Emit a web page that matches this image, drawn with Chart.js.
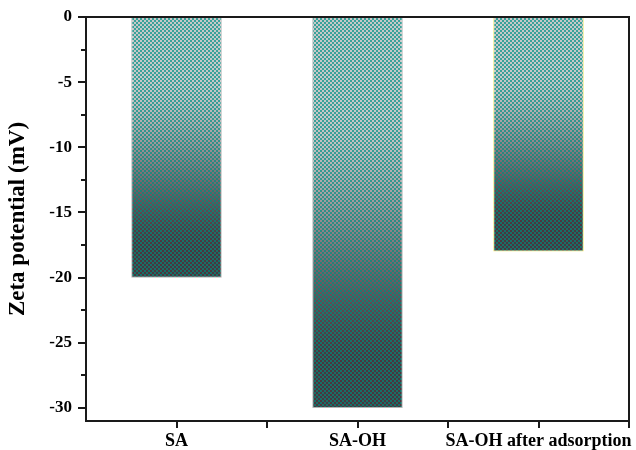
<!DOCTYPE html>
<html>
<head>
<meta charset="utf-8">
<script src="https://cdn.jsdelivr.net/npm/chart.js@4"></script>
<style>
  html, body { margin: 0; padding: 0; background: #fff; }
  #wrap { width: 636px; height: 450px; }
</style>
</head>
<body>
<div id="wrap"><canvas id="c" width="636" height="450"></canvas></div>
<script>
// Zeta potential of the samples (mV)
const categories = ['SA', 'SA-OH', 'SA-OH after adsorption'];
const zeta = [-20, -30, -18];
const yMin = -31;
const yMax = 0;
const yTickValues = [0, -2.5, -5, -7.5, -10, -12.5, -15, -17.5, -20, -22.5, -25, -27.5, -30];
const barEdgeColors = ['#b5b5b5', '#b5b5b5', '#eeea6a'];

const FONT = '"Liberation Serif", "Times New Roman", serif';

// Cross-hatched fill whose colours darken from the top of each bar to its end.
const fillCache = {};
function mix(a, b, s) { return a.map((v, i) => Math.round(v + (b[i] - v) * s)); }
function hatchFill(ctx) {
  const chart = ctx.chart;
  if (!chart.chartArea || ctx.parsed === undefined) return '#3a9a94';
  const yScale = chart.scales.y;
  const top = yScale.getPixelForValue(0);
  const bottom = yScale.getPixelForValue(ctx.parsed.y);
  const key = ctx.dataIndex + ':' + Math.round(top) + ':' + Math.round(bottom) + ':' + chart.height;
  if (fillCache[key]) return fillCache[key];
  const w = 4, h = chart.height;
  const cv = document.createElement('canvas');
  cv.width = w; cv.height = h;
  const g = cv.getContext('2d');
  const img = g.createImageData(w, h);
  const bgLight = [200, 200, 200], bgDark = [74, 54, 62];
  const tealLight = [58, 162, 154], tealDark = [22, 112, 104];
  for (let y = 0; y < h; y++) {
    let t = (y - top) / (bottom - top);
    t = Math.max(0, Math.min(1, t));
    let s = Math.max(0, Math.min(1, (t - 0.22) / 0.68));
    s = s * s * (3 - 2 * s);
    const bg = mix(bgLight, bgDark, s);
    const tl = mix(tealLight, tealDark, s);
    for (let x = 0; x < w; x++) {
      const col = (((x >> 1) + (y >> 1)) % 2 === 0) ? bg : tl;
      const i = (y * w + x) * 4;
      img.data[i] = col[0]; img.data[i + 1] = col[1]; img.data[i + 2] = col[2]; img.data[i + 3] = 255;
    }
  }
  g.putImageData(img, 0, 0);
  const pat = chart.ctx.createPattern(cv, 'repeat');
  fillCache[key] = pat;
  return pat;
}

// Frame around the plot with outward tick marks on the left and bottom axes.
const frameTicks = {
  id: 'frameTicks',
  afterDatasetsDraw(chart) {
    const { ctx, chartArea: a, scales } = chart;
    ctx.save();
    ctx.strokeStyle = '#1a1a1a';
    ctx.lineWidth = 2;
    ctx.strokeRect(a.left, a.top, a.right - a.left, a.bottom - a.top);
    scales.y.ticks.forEach(t => {
      const py = Math.round(scales.y.getPixelForValue(t.value));
      const major = Math.abs(t.value % 5) < 1e-9;
      ctx.beginPath();
      ctx.moveTo(a.left, py);
      ctx.lineTo(a.left - (major ? 8 : 5), py);
      ctx.stroke();
    });
    const n = categories.length;
    for (let k = 1; k <= 2 * n; k++) {
      const px = Math.round(a.left + (a.right - a.left) * k / (2 * n));
      ctx.beginPath();
      ctx.moveTo(px, a.bottom);
      ctx.lineTo(px, a.bottom + 7);
      ctx.stroke();
    }
    ctx.restore();
  }
};

new Chart(document.getElementById('c'), {
  type: 'bar',
  data: {
    labels: categories,
    datasets: [{
      data: zeta,
      backgroundColor: hatchFill,
      borderColor: barEdgeColors,
      borderWidth: 1,
      borderSkipped: false,
      barPercentage: 0.5,
      categoryPercentage: 1.0
    }]
  },
  options: {
    responsive: false,
    animation: false,
    devicePixelRatio: 1,
    layout: { padding: { top: 17, right: 7, left: 0, bottom: 0 } },
    plugins: { legend: { display: false }, tooltip: { enabled: false } },
    scales: {
      x: {
        grid: { display: false, drawTicks: false },
        border: { display: false },
        ticks: {
          color: '#000',
          padding: 10,
          maxRotation: 0,
          autoSkip: false,
          font: { family: FONT, size: 18, weight: 'bold' }
        },
        afterFit(scale) {
          scale.height = 29;
          scale.paddingLeft = 0;
          scale.paddingRight = 0;
        }
      },
      y: {
        min: yMin,
        max: yMax,
        grid: { display: false, drawTicks: false },
        border: { display: false },
        afterBuildTicks(scale) { scale.ticks = yTickValues.map(v => ({ value: v })); },
        ticks: {
          color: '#000',
          padding: 14,
          font: { family: FONT, size: 17, weight: 'bold' },
          callback(v) { return Math.abs(v % 5) < 1e-9 ? String(v) : ''; }
        },
        title: {
          display: true,
          text: 'Zeta potential (mV)',
          color: '#000',
          padding: { top: 4, bottom: 0 },
          font: { family: FONT, size: 23, weight: 'bold' }
        },
        afterFit(scale) {
          scale.width = 86;
          scale.paddingTop = 0;
          scale.paddingBottom = 0;
        }
      }
    }
  },
  plugins: [frameTicks]
});
</script>
</body>
</html>
